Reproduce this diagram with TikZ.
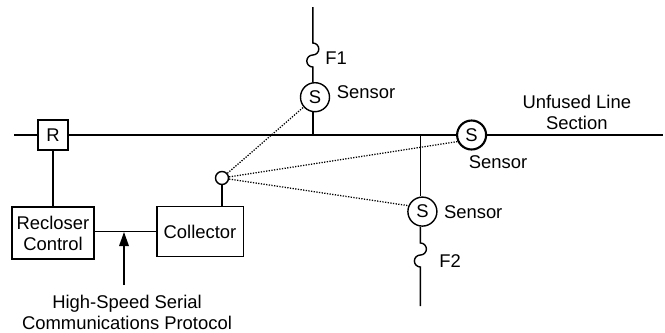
\documentclass[tikz,border=0pt]{standalone}
\usepackage{fontspec}
\setmainfont{Liberation Sans}
\usetikzlibrary{arrows.meta}
\tikzset{
  every node/.style={font=\fontsize{13.1}{14.9}\selectfont, inner sep=0pt},
  wire/.style={line width=1pt},
  bus/.style={line width=1.5pt},
  box/.style={draw, line width=1pt, fill=white, align=center},
  sensor/.style={draw, circle, line width=1pt, fill=white, minimum size=0.725cm},
  link/.style={line width=0.9pt, densely dotted}
}

\begin{document}
\begin{tikzpicture}
\useasboundingbox (0,0) rectangle (16.625,8.3);

\node[box, line width=1.5pt, minimum size=0.75cm] (r) at (1.325,4.925) {R};
\node[box, minimum width=2.04cm, minimum height=1.3cm] (ctrl) at (1.325,2.475) {Recloser\\Control};
\node[box, minimum width=2.16cm, minimum height=1.25cm] (coll) at (5,2.51) {Collector};
\node[draw, circle, line width=1pt, minimum size=0.325cm] (hub) at (5.55,3.85) {};

\node[sensor] (s1) at (7.875,5.87) {S};
\node[sensor, line width=1.5pt] (s2) at (11.79,4.925) {S};
\node[sensor] (s3) at (10.56,3.01) {S};

\node (s1txt) at (9.15,5.99) {Sensor};
\node (s2txt) at (12.45,4.25) {Sensor};
\node (s3txt) at (11.83,3) {Sensor};
\node (f1) at (8.4,6.85) {F1};
\node (f2) at (11.25,1.78) {F2};
\node[align=center] (unf) at (14.42,5.49) {Unfused Line\\Section};
\node[align=center] (proto) at (3.175,0.5) {High-Speed Serial\\Communications Protocol};

\coordinate (west) at (0.35,4.925);
\coordinate (east) at (16.575,4.925);
\coordinate (f1top) at (7.82,8.125);
\coordinate (f2tap) at (10.51,4.925);
\coordinate (f2end) at (10.51,0.65);
\coordinate (tip) at (3.1,2.5);
\coordinate (tail) at (3.1,1.175);

% feeder line
\draw[bus] (west) -- (r) -- (s2) -- (east);

% fused taps
\draw[wire] (f1top) -- (7.82,7.225) arc[start angle=90, end angle=-90, radius=0.15]
  arc[start angle=90, end angle=270, radius=0.15] -- (f1top |- s1.north);
\draw[wire] (f1top |- s1.south) -- (f1top |- west);
\draw[wire] (f2tap) -- (f2tap |- s3.north);
\draw[wire] (f2tap |- s3.south) -- (10.51,2.225) arc[start angle=90, end angle=-90, radius=0.15]
  arc[start angle=90, end angle=270, radius=0.15] -- (f2end);

% control side
\draw[wire] (r) -- (ctrl);
\draw[wire] (coll.west -| ctrl.east) -- (coll.west);
\draw[wire] (hub) -- (hub |- coll.north);
\draw[wire, -{Triangle[length=0.35cm, width=0.24cm]}] (tail) -- (tip);

% radio links
\draw[link] (hub) -- (s1);
\draw[link] (hub) -- (s2.205);
\draw[link] (hub) -- (s3.157);
\end{tikzpicture}
\end{document}
